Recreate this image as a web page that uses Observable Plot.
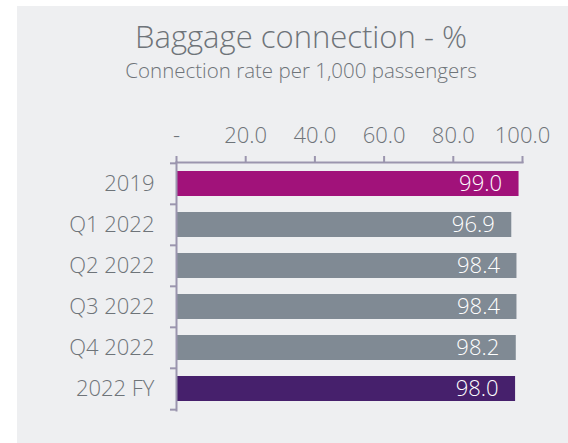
<!DOCTYPE html>
<html>
<head>
<meta charset="utf-8">
<script src="https://cdn.jsdelivr.net/npm/d3@7"></script>
<script src="https://cdn.jsdelivr.net/npm/@observablehq/plot@0.6"></script>
<style>
  body { margin: 0; background: #ffffff; }
  #wrap { position: relative; width: 568px; height: 443px; overflow: hidden; font-family: "Open Sans", sans-serif; }
  #panel { position: absolute; left: 17px; top: 6px; width: 551px; height: 437px; background: #EEEFF1; }
  .t { position: absolute; left: 0; width: 602px; text-align: center; color: #6E7479; font-weight: 300; line-height: 1; white-space: nowrap; }
  #title { top: 21px; font-size: 31px; }
  #subtitle { top: 60px; font-size: 20.5px; }
  #chart { position: absolute; left: 0; top: 0; }
</style>
</head>
<body>
<div id="wrap">
  <div id="panel"></div>
  <div id="title" class="t">Baggage connection - %</div>
  <div id="subtitle" class="t">Connection rate per 1,000 passengers</div>
  <div id="chart"></div>
</div>
<script>
const categories = ["2019", "Q1 2022", "Q2 2022", "Q3 2022", "Q4 2022", "2022 FY"];
const values = [99.0, 96.9, 98.4, 98.4, 98.2, 98.0];
const xTicks = [0, 20, 40, 60, 80, 100];
const xTickLabels = ["-", "20.0", "40.0", "60.0", "80.0", "100.0"];

const highlight = {"2019": "#A1127A", "2022 FY": "#46206C"};
const baseColor = "#808A94";
const axisColor = "#9B95AE";
const textColor = "#6E7479";

const data = categories.map((c, i) => ({category: c, value: values[i]}));

const W = 568, H = 443, mL = 176, mR = 46, mT = 162, mB = 33;
const step = (H - mT - mB) / categories.length;
const tickPx = 6;
const xPerPx = 100 / (W - mL - mR);

const chart = Plot.plot({
  width: W,
  height: H,
  marginLeft: mL,
  marginRight: mR,
  marginTop: mT,
  marginBottom: mB,
  style: {background: "transparent", fontFamily: "Open Sans", fontSize: "22px", fontWeight: 300, color: textColor, overflow: "visible"},
  x: {domain: [0, 100], axis: null, label: null},
  y: {domain: categories, paddingInner: 0.4, paddingOuter: 0.2, axis: null, label: null},
  marks: [
    Plot.barX(data, {x: "value", y: "category", fill: d => highlight[d.category] || baseColor}),
    Plot.text(data, {x: "value", y: "category", text: d => d.value.toFixed(1), textAnchor: "end", dx: -17, fill: "white", fontSize: 22, fontWeight: 300}),
    Plot.frame({anchor: "top", stroke: axisColor, strokeWidth: 2}),
    Plot.frame({anchor: "left", stroke: axisColor, strokeWidth: 2}),
    Plot.ruleY(categories, {y: d => d, x1: -tickPx * xPerPx, x2: 0, dy: -step / 2, stroke: axisColor, strokeWidth: 2}),
    Plot.ruleY(categories.slice(-1), {y: d => d, x1: -tickPx * xPerPx, x2: 0, dy: step / 2, stroke: axisColor, strokeWidth: 2}),
    Plot.axisX(xTicks, {anchor: "top", label: null, tickSize: 7, tickPadding: 13, stroke: axisColor, strokeWidth: 2, fill: textColor, fontSize: 22, fontWeight: 300,
      tickFormat: d => xTickLabels[xTicks.indexOf(d)]}),
    Plot.axisY({anchor: "left", label: null, tickSize: 0, tickPadding: 22, fill: textColor, fontSize: 22, fontWeight: 300})
  ]
});
document.getElementById("chart").appendChild(chart);
</script>
</body>
</html>
